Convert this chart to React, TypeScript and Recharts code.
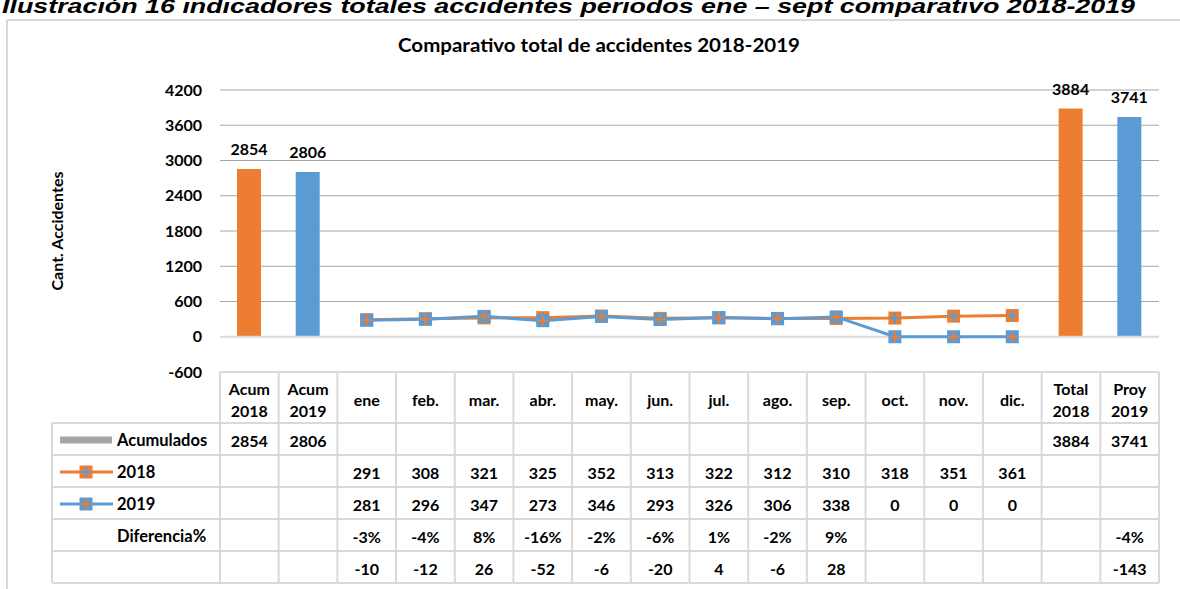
import React from "react";
import {
  Bar,
  CartesianGrid,
  Cell,
  ComposedChart,
  LabelList,
  Line,
  ReferenceLine,
  XAxis,
  YAxis,
} from "recharts";

const CATEGORIES = [
  "Acum 2018", "Acum 2019", "ene", "feb.", "mar.", "abr.", "may.", "jun.",
  "jul.", "ago.", "sep.", "oct.", "nov.", "dic.", "Total 2018", "Proy 2019",
];
const ACUMULADOS = [2854, 2806, null, null, null, null, null, null, null, null, null, null, null, null, 3884, 3741];
const SERIE_2018 = [null, null, 291, 308, 321, 325, 352, 313, 322, 312, 310, 318, 351, 361, null, null];
const SERIE_2019 = [null, null, 281, 296, 347, 273, 346, 293, 326, 306, 338, 0, 0, 0, null, null];
const DIFERENCIA_PCT = ["", "", "-3%", "-4%", "8%", "-16%", "-2%", "-6%", "1%", "-2%", "9%", "", "", "", "", "-4%"];
const DIFERENCIA_ABS = [null, null, -10, -12, 26, -52, -6, -20, 4, -6, 28, null, null, null, null, -143];
const Y_TICKS = [-600, 0, 600, 1200, 1800, 2400, 3000, 3600, 4200];

const ORANGE = "#ED7D31";
const BLUE = "#5B9BD5";
const BORDER = "#d9d9d9";
const FONT = "Lato, 'Noto Sans', sans-serif";

const W = 1180;
const H = 589;
const MARGIN = { top: 90, right: 21, left: 160, bottom: 0 };
const Y_AXIS_W = 60;
const X_AXIS_H = 217;
const PLOT_W = W - MARGIN.left - Y_AXIS_W - MARGIN.right;
const COL_W = PLOT_W / CATEGORIES.length;

// table rows, measured from the top of the table
const HEADER_H = 51;
const ROW_H = 32;
const ROW_COUNT = 5;

const data = CATEGORIES.map((cat, i) => ({
  cat,
  acum: ACUMULADOS[i],
  y2018: SERIE_2018[i],
  y2019: SERIE_2019[i],
}));

const cellText = {
  fontFamily: FONT,
  fontWeight: 700,
  fontSize: 16,
  fill: "#000",
};

function Marker({ cx, cy, fill, cross }: { cx: number; cy: number; fill: string; cross: string }) {
  return (
    <g>
      <rect x={cx - 6.5} y={cy - 6.5} width={13} height={13} fill={fill} />
      <line x1={cx - 5.5} x2={cx + 5.5} y1={cy} y2={cy} stroke={cross} strokeWidth={2} />
      <line x1={cx} x2={cx} y1={cy - 5.5} y2={cy + 5.5} stroke={cross} strokeWidth={2} />
    </g>
  );
}

function makeDot(fill: string, cross: string) {
  return (props: any) => {
    const { cx, cy, value, index } = props;
    if (value == null || cx == null || cy == null) return <g key={`e${index}`} />;
    return <Marker key={`m${index}`} cx={cx} cy={cy} fill={fill} cross={cross} />;
  };
}

function fmt(v: number | string | null) {
  return v == null ? "" : String(v);
}

function TableColumn(props: any) {
  const { x, y, payload } = props;
  const i = payload.index;
  const left = x - COL_W / 2;
  const right = x + COL_W / 2;
  const bottom = y + HEADER_H + ROW_H * ROW_COUNT;
  const lines = String(payload.value).split(" ");
  const rowVals = [ACUMULADOS[i], SERIE_2018[i], SERIE_2019[i], DIFERENCIA_PCT[i], DIFERENCIA_ABS[i]];
  const hLines = [y];
  for (let r = 0; r <= ROW_COUNT; r++) hLines.push(y + HEADER_H + ROW_H * r);
  return (
    <g>
      {hLines.map((hy, k) => (
        <line key={`h${k}`} x1={left} x2={right} y1={hy} y2={hy} stroke={BORDER} strokeWidth={2} />
      ))}
      <line x1={left} x2={left} y1={y} y2={bottom} stroke={BORDER} strokeWidth={2} />
      {i === CATEGORIES.length - 1 && (
        <line x1={right} x2={right} y1={y} y2={bottom} stroke={BORDER} strokeWidth={2} />
      )}
      {lines.length === 1 ? (
        <text x={x} y={y + 27} textAnchor="middle" dominantBaseline="central" style={cellText}>
          {lines[0]}
        </text>
      ) : (
        lines.map((l, k) => (
          <text key={k} x={x} y={y + 16 + k * 22} textAnchor="middle" dominantBaseline="central" style={cellText}>
            {l}
          </text>
        ))
      )}
      {rowVals.map((v, r) => (
        <text
          key={`r${r}`}
          x={x}
          y={y + HEADER_H + ROW_H * r + ROW_H / 2 + 1}
          textAnchor="middle"
          dominantBaseline="central"
          style={cellText}
        >
          {fmt(v)}
        </text>
      ))}
    </g>
  );
}

function Decorations() {
  const tableTop = MARGIN.top + (H - MARGIN.top - X_AXIS_H - MARGIN.bottom);
  const rowTop = tableTop + HEADER_H;
  const labelLeft = 52;
  const labelRight = MARGIN.left + Y_AXIS_W;
  const textX = 117;
  const rowMid = (r: number) => rowTop + ROW_H * r + ROW_H / 2 + 1;
  const labels = ["Acumulados", "2018", "2019", "Diferencia%", ""];
  return (
    <svg width={W} height={H} style={{ position: "absolute", left: 0, top: 0 }}>
      <text
        x={2}
        y={13}
        textLength={1133}
        lengthAdjust="spacingAndGlyphs"
        style={{ fontFamily: "'Liberation Sans', Arial, sans-serif", fontWeight: 700, fontStyle: "italic", fontSize: 21 }}
      >
        Ilustración 16 indicadores totales accidentes periodos ene – sept comparativo 2018-2019
      </text>
      <line x1={7} x2={W} y1={20} y2={20} stroke={BORDER} strokeWidth={2} />
      <line x1={7} x2={7} y1={20} y2={H} stroke={BORDER} strokeWidth={2} />
      <text
        x={599}
        y={45}
        textAnchor="middle"
        dominantBaseline="central"
        textLength={402}
        lengthAdjust="spacingAndGlyphs"
        style={{ ...cellText, fontSize: 18 }}
      >
        Comparativo total de accidentes 2018-2019
      </text>
      <text
        x={56}
        y={231}
        textAnchor="middle"
        dominantBaseline="central"
        transform="rotate(-90 56 231)"
        style={{ ...cellText, fontSize: 16 }}
      >
        Cant. Accidentes
      </text>
      {Array.from({ length: ROW_COUNT + 1 }).map((_, r) => (
        <line
          key={r}
          x1={labelLeft}
          x2={labelRight}
          y1={rowTop + ROW_H * r}
          y2={rowTop + ROW_H * r}
          stroke={BORDER}
          strokeWidth={2}
        />
      ))}
      <line x1={labelLeft} x2={labelLeft} y1={rowTop} y2={rowTop + ROW_H * ROW_COUNT} stroke={BORDER} strokeWidth={2} />
      <rect x={60} y={rowMid(0) - 3.5} width={52} height={7} fill="#a5a5a5" />
      <line x1={60} x2={113} y1={rowMid(1)} y2={rowMid(1)} stroke={ORANGE} strokeWidth={3} />
      <Marker cx={86} cy={rowMid(1)} fill={ORANGE} cross={BLUE} />
      <line x1={60} x2={113} y1={rowMid(2)} y2={rowMid(2)} stroke={BLUE} strokeWidth={3} />
      <Marker cx={86} cy={rowMid(2)} fill={BLUE} cross={ORANGE} />
      {labels.map((l, r) => (
        <text key={r} x={textX} y={rowMid(r)} dominantBaseline="central" style={{ ...cellText, fontSize: 16.5 }}>
          {l}
        </text>
      ))}
    </svg>
  );
}

export default function App() {
  return (
    <div style={{ position: "absolute", left: 0, top: 0, width: W, height: H, background: "#fff" }}>
      <Decorations />
      <div style={{ position: "absolute", left: 0, top: 0 }}>
        <ComposedChart width={W} height={H} data={data} margin={MARGIN}>
          <CartesianGrid
            vertical={false}
            horizontalValues={[600, 1200, 1800, 2400, 3000, 3600, 4200]}
            stroke="#a6a6a6"
          />
          <ReferenceLine y={0} stroke={BORDER} strokeWidth={2} />
          <XAxis
            dataKey="cat"
            height={X_AXIS_H}
            interval={0}
            axisLine={false}
            tickLine={false}
            tickSize={0}
            tickMargin={0}
            tick={<TableColumn />}
          />
          <YAxis
            width={Y_AXIS_W}
            domain={[-600, 4200]}
            ticks={Y_TICKS}
            axisLine={false}
            tickLine={false}
            tickSize={0}
            tickMargin={18}
            tick={{ ...cellText }}
          />
          <Bar dataKey="acum" barSize={24} isAnimationActive={false}>
            {data.map((d, i) => (
              <Cell key={i} fill={i % 2 === 0 ? ORANGE : BLUE} />
            ))}
            <LabelList dataKey="acum" position="top" offset={14} style={cellText} />
          </Bar>
          <Line
            dataKey="y2018"
            stroke={ORANGE}
            strokeWidth={3}
            dot={makeDot(ORANGE, BLUE)}
            activeDot={false}
            isAnimationActive={false}
          />
          <Line
            dataKey="y2019"
            stroke={BLUE}
            strokeWidth={3}
            dot={makeDot(BLUE, ORANGE)}
            activeDot={false}
            isAnimationActive={false}
          />
        </ComposedChart>
      </div>
    </div>
  );
}
